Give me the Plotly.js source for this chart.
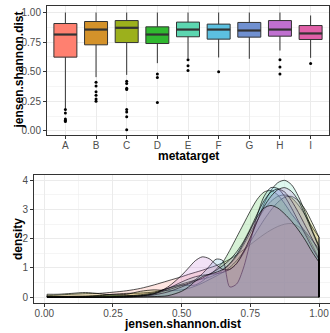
<!DOCTYPE html>
<html>
<head>
<meta charset="utf-8">
<script src="https://cdn.plot.ly/plotly-3.0.1.min.js"></script>
<style>html,body{margin:0;padding:0;background:#fff;}#chart{width:330px;height:333px;}</style>
</head>
<body>
<div id="chart"></div>
<script>
// ---- Box plot data (top panel) ----
const metatarget = ['A','B','C','D','E','F','G','H','I'];
const lowerWhisker = [0.19, 0.454, 0.473, 0.572, 0.614, 0.62, 0.609, 0.679, 0.617];
const q1 = [0.623, 0.727, 0.746, 0.738, 0.795, 0.775, 0.792, 0.800, 0.772];
const median = [0.814, 0.856, 0.871, 0.814, 0.856, 0.856, 0.848, 0.856, 0.823];
const q3 = [0.907, 0.924, 0.932, 0.879, 0.919, 0.902, 0.916, 0.932, 0.890];
const upperWhisker = [1.0, 1.0, 1.0, 1.0, 1.0, 1.0, 1.0, 1.0, 0.975];
const outliersA = [0.18, 0.15, 0.10, 0.09, 0.08];
const outliersB = [0.41, 0.38, 0.33, 0.30, 0.27, 0.25];
const outliersC = [0.42, 0.40, 0.36, 0.35, 0.18, 0.16, 0.12, 0.01];
const outliersD = [0.48, 0.45, 0.24];
const outliersE = [0.60, 0.55, 0.51];
const outliersF = [0.50];
const outliersG = [];
const outliersH = [0.60, 0.54, 0.48];
const outliersI = [0.57];
const boxColors = ['#FF8070','#D4922A','#9CB01C','#30B830','#5CD6B0','#5CC0E0','#7090D0','#C070D0','#E060A8'];

// ---- Density data (bottom panel) ----
const densX = [0.01,0.05,0.10,0.15,0.20,0.25,0.30,0.35,0.40,0.45,0.50,0.525,0.55,0.575,0.60,0.625,0.65,0.675,0.70,0.725,0.75,0.775,0.80,0.825,0.85,0.875,0.90,0.925,0.95,0.975,1.0];
const densA = [0.05,0.07,0.10,0.12,0.13,0.17,0.22,0.30,0.42,0.56,0.70,0.78,0.85,0.92,1.00,1.08,1.18,1.30,1.45,1.62,1.80,1.98,2.15,2.30,2.42,2.50,2.52,2.42,2.20,1.80,1.30];
const densB = [0.02,0.02,0.03,0.04,0.06,0.10,0.13,0.14,0.18,0.30,0.45,0.52,0.58,0.62,0.68,0.78,0.92,1.12,1.40,1.78,2.20,2.62,3.00,3.28,3.45,3.50,3.40,3.15,2.80,2.40,2.05];
const densC = [0.10,0.10,0.13,0.16,0.12,0.07,0.10,0.20,0.25,0.22,0.25,0.30,0.38,0.48,0.60,0.72,0.85,1.02,1.25,1.55,1.90,2.28,2.65,2.98,3.25,3.42,3.45,3.30,3.00,2.55,2.05];
const densD = [0.01,0.01,0.01,0.02,0.05,0.08,0.06,0.05,0.10,0.30,0.42,0.40,0.42,0.55,0.75,0.95,1.20,1.60,2.05,2.50,2.95,3.35,3.60,3.65,3.50,3.20,2.85,2.55,2.25,1.95,1.65];
const densE = [0.00,0.00,0.00,0.00,0.01,0.02,0.04,0.08,0.15,0.30,0.52,0.62,0.70,0.75,0.78,0.80,0.85,0.95,1.15,1.50,2.00,2.60,3.20,3.65,3.92,4.00,3.85,3.45,2.90,2.30,1.75];
const densF = [0.00,0.00,0.00,0.00,0.00,0.01,0.02,0.05,0.12,0.25,0.40,0.48,0.60,0.80,1.05,1.30,1.25,0.35,0.45,1.00,1.90,2.80,3.45,3.75,3.72,3.45,3.05,2.60,2.15,1.70,1.30];
const densG = [0.00,0.00,0.00,0.00,0.00,0.00,0.01,0.03,0.08,0.18,0.35,0.45,0.55,0.65,0.78,0.92,1.08,1.28,1.55,1.90,2.35,2.85,3.30,3.60,3.70,3.60,3.30,2.90,2.45,2.00,1.55];
const densH = [0.00,0.00,0.00,0.00,0.00,0.00,0.01,0.04,0.12,0.35,0.75,1.00,1.25,1.38,1.32,1.12,0.95,0.95,1.15,1.55,2.05,2.60,3.10,3.45,3.68,3.75,3.62,3.30,2.80,2.25,1.70];
const densI = [0.00,0.00,0.00,0.00,0.00,0.00,0.00,0.01,0.02,0.05,0.20,0.35,0.55,0.70,0.78,0.85,0.95,1.15,1.45,1.85,2.30,2.75,3.05,3.14,3.05,2.85,2.60,2.30,1.95,1.55,1.20];
const densAlpha = 0.2;

const allOutliers = [outliersA,outliersB,outliersC,outliersD,outliersE,outliersF,outliersG,outliersH,outliersI];
const allDens = [densA,densB,densC,densD,densE,densF,densG,densH,densI];

function hexToRgba(h, a) {
  const n = parseInt(h.slice(1), 16);
  return 'rgba(' + ((n>>16)&255) + ',' + ((n>>8)&255) + ',' + (n&255) + ',' + a + ')';
}

const W = 330, H = 333;
const FONT = 'Liberation Sans, Arial, sans-serif';
const traces = [];
const boxW = 0.75;

// boxes
metatarget.forEach((m, i) => {
  traces.push({
    type: 'box', x: [i], q1: [q1[i]], median: [median[i]], q3: [q3[i]],
    lowerfence: [lowerWhisker[i]], upperfence: [upperWhisker[i]],
    width: boxW, fillcolor: boxColors[i], line: {color: '#333333', width: 1},
    whiskerwidth: 0, boxpoints: false, showlegend: false, hoverinfo: 'skip',
    xaxis: 'x', yaxis: 'y'
  });
});
// medians (thick)
const mx = [], my = [];
metatarget.forEach((m, i) => { mx.push(i - boxW/2, i + boxW/2, null); my.push(median[i], median[i], null); });
traces.push({type:'scatter', mode:'lines', x: mx, y: my, line:{color:'#333333', width:2.2}, showlegend:false, hoverinfo:'skip', xaxis:'x', yaxis:'y'});
// outliers
const ox = [], oy = [];
allOutliers.forEach((arr, i) => arr.forEach(v => { ox.push(i); oy.push(v); }));
traces.push({type:'scatter', mode:'markers', x: ox, y: oy, marker:{color:'#000', size:3}, showlegend:false, hoverinfo:'skip', xaxis:'x', yaxis:'y'});

// densities
allDens.forEach((d, i) => {
  traces.push({type:'scatter', mode:'lines', x: densX, y: d, fill:'tozeroy', fillcolor: hexToRgba(boxColors[i], densAlpha),
    line:{color:'rgba(0,0,0,0.85)', width:0.8, shape:'spline', smoothing:0.8}, showlegend:false, hoverinfo:'skip', xaxis:'x2', yaxis:'y2'});
});
// closing edges (vertical at ends + baseline)
const ex = [], ey = [];
allDens.forEach(d => {
  ex.push(densX[densX.length-1], densX[densX.length-1], null, densX[0], densX[0], null);
  ey.push(0, d[d.length-1], null, 0, d[0], null);
});
ex.push(densX[0], densX[densX.length-1], null); ey.push(0, 0, null);
traces.push({type:'scatter', mode:'lines', x: ex, y: ey, line:{color:'rgba(0,0,0,0.85)', width:0.8}, showlegend:false, hoverinfo:'skip', xaxis:'x2', yaxis:'y2'});

const axBase = {
  showline: true, mirror: true, linecolor: '#333333', linewidth: 1,
  ticks: 'outside', ticklen: 3, tickcolor: '#333333', tickwidth: 1,
  gridcolor: '#EBEBEB', gridwidth: 1, zeroline: false,
  tickfont: {family: FONT, size: 10, color: '#4D4D4D'}
};
const titleFont = {family: FONT, size: 12, color: '#000', weight: 'bold'};

function ann(text, px, py, angle) {
  return {text: text, xref: 'paper', yref: 'paper', x: px / W, y: 1 - py / H,
    xanchor: 'center', yanchor: 'middle', showarrow: false, textangle: angle || 0, font: titleFont};
}

const layout = {
  width: W, height: H, margin: {l:0, r:0, t:0, b:0},
  paper_bgcolor: '#fff', plot_bgcolor: '#fff', showlegend: false,
  xaxis: Object.assign({}, axBase, {
    domain: [47/W, 329/W], anchor: 'y', range: [-0.6, 8.6], ticklabelstandoff: -2,
    tickmode: 'array', tickvals: metatarget.map((m,i)=>i), ticktext: metatarget
  }),
  yaxis: Object.assign({}, axBase, {
    domain: [1-135/H, 1-6/H], anchor: 'x', range: [-0.035, 1.055],
    tickmode: 'array', tickvals: [0,0.25,0.5,0.75,1], ticktext: ['0.00','0.25','0.50','0.75','1.00'],
    minor: {showgrid: true, gridcolor: '#EBEBEB', gridwidth: 0.5, tickvals: [0.125,0.375,0.625,0.875]}
  }),
  xaxis2: Object.assign({}, axBase, {
    domain: [34/W, 1], anchor: 'y2', range: [-0.0375, 1.040], ticklabelstandoff: -2,
    tickmode: 'array', tickvals: [0,0.25,0.5,0.75,1], ticktext: ['0.00','0.25','0.50','0.75','1.00'],
    minor: {showgrid: true, gridcolor: '#EBEBEB', gridwidth: 0.5, tickvals: [0.125,0.375,0.625,0.875]}
  }),
  yaxis2: Object.assign({}, axBase, {
    domain: [1-303/H, 1-174.5/H], anchor: 'x2', range: [-0.2, 4.2],
    tickmode: 'array', tickvals: [0,1,2,3,4], ticktext: ['0','1','2','3','4'],
    minor: {showgrid: true, gridcolor: '#EBEBEB', gridwidth: 0.5, tickvals: [0.5,1.5,2.5,3.5]}
  }),
  annotations: [
    ann('metatarget', 188, 156),
    ann('jensen.shannon.dist', 18, 70.5, -90),
    ann('jensen.shannon.dist', 182, 324),
    ann('density', 18, 239, -90)
  ]
};

Plotly.newPlot('chart', traces, layout, {staticPlot: true, displayModeBar: false});
</script>
</body>
</html>
